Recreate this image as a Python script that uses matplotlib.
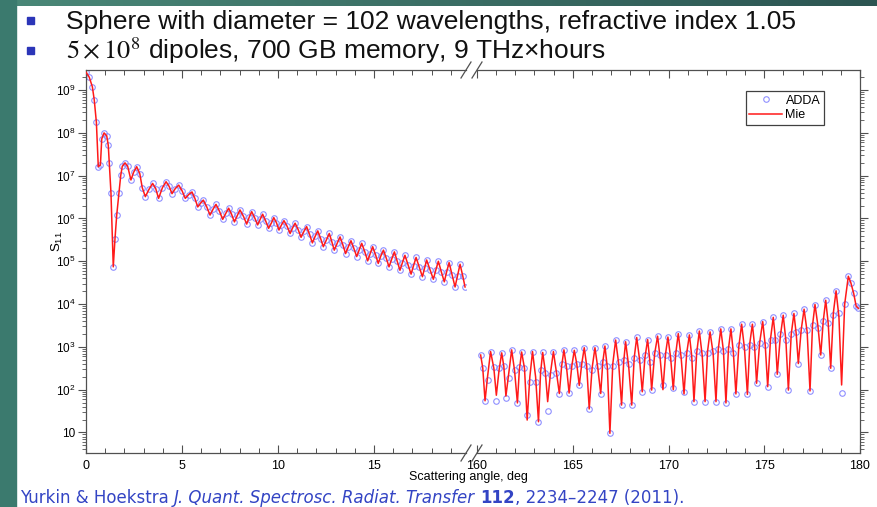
import numpy as np
import matplotlib
matplotlib.use('Agg')
import matplotlib.pyplot as plt
from matplotlib.patches import Rectangle
from matplotlib.lines import Line2D
from matplotlib.ticker import LogLocator, NullFormatter, MultipleLocator

plt.rcParams['font.family'] = ['Liberation Sans', 'DejaVu Sans']
plt.rcParams['mathtext.fontset'] = 'custom'
plt.rcParams['mathtext.rm'] = 'Liberation Sans'
plt.rcParams['mathtext.it'] = 'Liberation Sans:italic'
plt.rcParams['mathtext.default'] = 'regular'

# ---- data (log10 of S11) ----
# 0..20 deg segment: Mie line and ADDA points coincide
left_deg = [0.00, 0.17, 0.33, 0.43, 0.54, 0.64, 0.75, 0.82, 0.94, 1.08, 1.16, 1.21, 1.30, 1.42,
            1.51, 1.60, 1.72, 1.81, 1.89, 2.03, 2.17, 2.34, 2.48, 2.64, 2.80, 2.93, 3.09, 3.28,
            3.47, 3.63, 3.78, 3.98, 4.17, 4.33, 4.48, 4.65, 4.83, 5.00, 5.17, 5.35, 5.52, 5.67,
            5.82, 5.97, 6.11, 6.28, 6.46, 6.62, 6.77, 6.95, 7.12, 7.28, 7.43, 7.58, 7.73, 7.88,
            8.02, 8.20, 8.37, 8.50, 8.63, 8.78, 8.94, 9.07, 9.20, 9.35, 9.51, 9.66, 9.78, 9.92,
            10.05, 10.18, 10.31, 10.47, 10.63, 10.76, 10.89, 11.05, 11.20, 11.35, 11.49, 11.64,
            11.79, 11.93, 12.07, 12.22, 12.36, 12.52, 12.67, 12.80, 12.93, 13.08, 13.23, 13.38,
            13.52, 13.66, 13.80, 13.95, 14.10, 14.23, 14.36, 14.52, 14.67, 14.80, 14.93, 15.08,
            15.22, 15.35, 15.49, 15.64, 15.78, 15.92, 16.06, 16.20, 16.35, 16.48, 16.61, 16.77,
            16.93, 17.06, 17.19, 17.35, 17.52, 17.63, 17.74, 17.92, 18.09, 18.22, 18.35, 18.50,
            18.66, 18.78, 18.91, 19.07, 19.22, 19.35, 19.48, 19.62, 19.74]
left_log = [9.42, 9.30, 9.08, 8.77, 8.25, 7.21, 7.25, 7.86, 8.00, 7.93, 7.71, 7.30, 6.60, 4.87,
            5.53, 6.08, 6.60, 7.01, 7.22, 7.30, 7.22, 6.90, 7.08, 7.21, 7.05, 6.72, 6.51, 6.68,
            6.82, 6.70, 6.47, 6.72, 6.86, 6.75, 6.58, 6.70, 6.78, 6.65, 6.47, 6.56, 6.62, 6.47,
            6.27, 6.36, 6.43, 6.28, 6.08, 6.22, 6.33, 6.17, 5.98, 6.12, 6.24, 6.10, 5.92, 6.07,
            6.20, 6.05, 5.87, 6.03, 6.16, 6.02, 5.85, 5.98, 6.10, 5.95, 5.77, 5.90, 6.02, 5.90,
            5.73, 5.85, 5.95, 5.82, 5.65, 5.78, 5.89, 5.74, 5.56, 5.70, 5.81, 5.63,
            5.43, 5.58, 5.71, 5.53, 5.34, 5.50, 5.65, 5.46, 5.26, 5.42, 5.57, 5.38,
            5.18, 5.34, 5.48, 5.30, 5.11, 5.27, 5.42, 5.22, 5.01, 5.18, 5.34, 5.15,
            4.95, 5.12, 5.26, 5.07, 4.87, 5.05, 5.22, 5.01, 4.79, 4.97, 5.14, 4.92,
            4.70, 4.90, 5.09, 4.87, 4.64, 4.84, 5.03, 4.80, 4.58, 4.80, 5.00, 4.76,
            4.52, 4.75, 4.97, 4.68, 4.40, 4.66, 4.93, 4.66, 4.40]

# 160..180 deg segment
right_deg = [160.19, 160.30, 160.42, 160.55, 160.71, 160.88, 161.01, 161.15, 161.29, 161.40,
             161.51, 161.66, 161.81, 161.96, 162.11, 162.21, 162.33, 162.48, 162.62, 162.76,
             162.90, 163.06, 163.21, 163.32, 163.43, 163.56, 163.69, 163.84, 163.99, 164.15,
             164.30, 164.42, 164.54, 164.68, 164.81, 164.95, 165.08, 165.21, 165.34, 165.47,
             165.60, 165.73, 165.86, 166.01, 166.16, 166.31, 166.46, 166.57, 166.68, 166.81,
             166.94, 167.09, 167.24, 167.40, 167.55, 167.66, 167.76, 167.92, 168.08, 168.21,
             168.34, 168.49, 168.63, 168.77, 168.91, 169.02, 169.12, 169.28, 169.43, 169.56,
             169.71, 169.85, 169.97, 170.11, 170.25, 170.38, 170.51, 170.66, 170.81, 170.95,
             171.09, 171.21, 171.33, 171.47, 171.61, 171.76, 171.91, 172.04, 172.17, 172.33,
             172.48, 172.60, 172.73, 172.87, 173.00, 173.13, 173.26, 173.39, 173.52, 173.67,
             173.82, 173.97, 174.12, 174.25, 174.38, 174.49, 174.60, 174.76, 174.92, 175.05,
             175.18, 175.33, 175.47, 175.58, 175.68, 175.84, 175.99, 176.13, 176.26, 176.41,
             176.55, 176.67, 176.78, 176.93, 177.08, 177.24, 177.39, 177.52, 177.65, 177.80,
             177.95, 178.08, 178.21, 178.34, 178.47, 178.61, 178.75, 178.90, 179.04, 179.20,
             179.39, 179.52, 179.67, 179.80, 179.92]
right_mie_log = [2.81, 2.51, 1.74, 2.30, 2.89, 2.50, 1.87, 2.45, 2.86, 2.55,
                 1.85, 2.40, 2.93, 2.45, 1.69, 2.45, 2.88, 2.50, 1.29, 2.30,
                 2.89, 2.30, 1.25, 2.40, 2.87, 2.45, 1.72, 2.40, 2.89, 2.40,
                 1.91, 2.55, 2.93, 2.50, 1.92, 2.55, 2.92, 2.60, 2.10, 2.60,
                 2.98, 2.55, 1.55, 2.50, 2.98, 2.50, 1.91, 2.65, 3.02, 2.50,
                 0.98, 2.60, 3.16, 2.60, 1.64, 2.65, 3.12, 2.55, 1.64, 2.75,
                 3.22, 2.70, 1.95, 2.75, 3.17, 2.70, 1.99, 2.85, 3.25, 2.75,
                 2.00, 2.85, 3.23, 2.75, 2.00, 2.85, 3.31, 2.75, 1.90, 2.85,
                 3.28, 2.80, 1.72, 2.85, 3.37, 2.80, 1.72, 2.90, 3.35, 2.85,
                 1.72, 2.95, 3.42, 2.90, 1.69, 2.95, 3.42, 2.85, 1.90, 3.00,
                 3.53, 2.95, 1.89, 3.10, 3.53, 3.05, 2.15, 3.10, 3.59, 3.05,
                 2.07, 3.20, 3.69, 3.20, 2.36, 3.25, 3.74, 3.15, 1.99, 3.30,
                 3.78, 3.30, 2.61, 3.40, 3.88, 3.35, 1.97, 3.50, 3.99, 3.50,
                 2.81, 3.60, 4.09, 3.55, 2.50, 3.80, 4.31, 3.70, 2.11, 4.00,
                 4.65, 4.50, 4.25, 3.95, 3.90]
right_adda_log = [2.81, 2.51, 1.74, 2.22, 2.89, 2.54, 1.73, 2.50, 2.86, 2.55,
                  1.81, 2.28, 2.93, 2.45, 1.69, 2.53, 2.87, 2.50, 1.41, 2.18,
                  2.89, 2.18, 1.25, 2.45, 2.87, 2.40, 1.51, 2.35, 2.89, 2.40,
                  1.91, 2.60, 2.93, 2.55, 1.92, 2.55, 2.92, 2.60, 2.10, 2.60,
                  2.98, 2.55, 1.55, 2.45, 2.98, 2.55, 1.91, 2.65, 3.02, 2.55,
                  0.98, 2.55, 3.16, 2.65, 1.64, 2.70, 3.12, 2.60, 1.64, 2.75,
                  3.22, 2.70, 1.95, 2.80, 3.17, 2.65, 1.99, 2.85, 3.25, 2.80,
                  2.10, 2.80, 3.23, 2.75, 2.03, 2.85, 3.31, 2.80, 1.95, 2.85,
                  3.28, 2.75, 1.72, 2.90, 3.37, 2.85, 1.72, 2.85, 3.35, 2.90,
                  1.72, 2.95, 3.42, 2.90, 1.69, 2.95, 3.42, 2.85, 1.90, 3.05,
                  3.53, 3.00, 1.89, 3.05, 3.53, 3.00, 2.15, 3.10, 3.59, 3.05,
                  2.07, 3.15, 3.69, 3.15, 2.36, 3.30, 3.74, 3.15, 1.99, 3.30,
                  3.78, 3.35, 2.61, 3.40, 3.88, 3.40, 1.97, 3.50, 3.99, 3.45,
                  2.81, 3.60, 4.09, 3.55, 2.50, 3.75, 4.31, 3.80, 1.93, 4.00,
                  4.65, 4.50, 4.25, 3.95, 3.90]

ytick_vals = [10, 1e2, 1e3, 1e4, 1e5, 1e6, 1e7, 1e8, 1e9]
ytick_labels = ['10', '$10^2$', '$10^3$', '$10^4$', '$10^5$', '$10^6$', '$10^7$', '$10^8$', '$10^9$']
left_xticks = [0, 5, 10, 15]
right_xticks = [160, 165, 170, 175, 180]

W, H = 877, 507
fig = plt.figure(figsize=(W / 100, H / 100), dpi=100)
fig.patch.set_facecolor('white')

def fx(px):
    return px / W

def fy(py):
    return 1 - py / H

# slide decoration
fig.patches.append(Rectangle((0, 0), fx(16), 1, transform=fig.transFigure,
                             color='#3b7a6e', zorder=0))
band = fig.add_axes([0, fy(6), 1, 6 / H])
band.imshow(np.linspace(0, 1, 256)[None, :], aspect='auto',
            cmap=matplotlib.colors.LinearSegmentedColormap.from_list('b', ['#4a8878', '#2c5552']))
band.axis('off')

bottom, top = 453, 70
ax1 = fig.add_axes([fx(86), fy(bottom), fx(466) - fx(86), (bottom - top) / H])
ax2 = fig.add_axes([fx(477), fy(bottom), fx(860) - fx(477), (bottom - top) / H], sharey=ax1)

mie_c = '#ff1a1a'
adda_c = '#8f8fff'
ax1.plot(left_deg, 10 ** np.array(left_log), 'o', mfc='none', mec=adda_c, ms=4, mew=0.8, zorder=2)
ax1.plot(left_deg, 10 ** np.array(left_log), '-', color=mie_c, lw=1.1, zorder=3)
h_adda, = ax2.plot(right_deg, 10 ** np.array(right_adda_log), 'o', mfc='none', mec=adda_c,
                   ms=4, mew=0.8, zorder=2, label='ADDA')
h_mie, = ax2.plot(right_deg, 10 ** np.array(right_mie_log), '-', color=mie_c, lw=1.1,
                  zorder=3, label='Mie')

ax1.set_yscale('log')
ax1.set_ylim(10 ** 0.52, 10 ** 9.47)
ax1.set_xlim(0, 19.79)
ax2.set_xlim(160, 180)

spine_c = '#505050'
for ax in (ax1, ax2):
    for s in ax.spines.values():
        s.set_color(spine_c)
        s.set_linewidth(0.9)
    ax.xaxis.set_minor_locator(MultipleLocator(1))
    ax.tick_params(axis='x', which='both', direction='in', top=True, bottom=True,
                   color=spine_c, labelsize=9, pad=5)
    ax.tick_params(axis='x', which='major', length=6, width=0.8)
    ax.tick_params(axis='x', which='minor', length=3.5, width=0.7)
    ax.yaxis.set_minor_locator(LogLocator(base=10, subs=np.arange(2, 10)))
    ax.yaxis.set_minor_formatter(NullFormatter())
    ax.tick_params(axis='y', which='both', direction='out', color=spine_c, labelsize=8.5)
    ax.tick_params(axis='y', which='major', length=5.5, width=0.8, pad=2)
    ax.tick_params(axis='y', which='minor', length=3, width=0.6)

ax1.set_xticks(left_xticks)
ax2.set_xticks(right_xticks)
ax1.set_yticks(ytick_vals)
ax1.set_yticklabels(ytick_labels)
ax1.spines['right'].set_visible(False)
ax2.spines['left'].set_visible(False)
ax1.tick_params(axis='y', which='both', left=True, right=False)
ax2.tick_params(axis='y', which='both', left=False, right=True, labelleft=False, labelright=False)

# break marks
for xb in (466, 477):
    for yb in (top, bottom):
        fig.add_artist(Line2D([fx(xb - 5), fx(xb + 5)], [fy(yb + 8), fy(yb - 8)],
                              color=spine_c, lw=0.9))

ax2.legend(handles=[h_adda, h_mie], loc='upper right',
           bbox_to_anchor=(fx(824), fy(91)), bbox_transform=fig.transFigure,
           borderaxespad=0, fancybox=False, edgecolor='#404040', framealpha=1,
           fontsize=9, handlelength=2.6, borderpad=0.3, labelspacing=0.2,
           handletextpad=0.3)
ax2.get_legend().get_frame().set_linewidth(0.9)

fig.text(fx(468), fy(477), 'Scattering angle, deg', ha='center', va='center', fontsize=9)
fig.text(fx(57), fy(242), '$S_{11}$', ha='center', va='center', rotation=90, fontsize=9.5)

# slide text
bullet_c = '#2b35b8'
for yb in (20, 50):
    fig.patches.append(Rectangle((fx(27), fy(yb + 3.5)), fx(7), 7 / H,
                                 transform=fig.transFigure, color=bullet_c))
fig.text(fx(66), fy(29), 'Sphere with diameter = 102 wavelengths, refractive index 1.05',
         fontsize=19, color='#111111', va='baseline')
fig.text(fx(66), fy(59), r'$\mathrm{5\times10^{8}}$ dipoles, 700 GB memory, 9 THz×hours',
         fontsize=19, color='#111111', va='baseline', math_fontfamily='stix')

# citation line, drawn piece by piece
renderer = fig.canvas.get_renderer()
cite_c = '#3344c4'
parts = [('Yurkin & Hoekstra ', 'normal', 'normal'),
         ('J. Quant. Spectrosc. Radiat. Transfer', 'italic', 'normal'),
         (' ', 'normal', 'normal'),
         ('112', 'normal', 'bold'),
         (', 2234–2247 (2011).', 'normal', 'normal')]
xc = 20
for s, st, wt in parts:
    t = fig.text(fx(xc), fy(503), s, fontsize=12, color=cite_c, style=st, weight=wt,
                 family=['DejaVu Sans'], va='baseline')
    xc += t.get_window_extent(renderer=renderer).width

fig.savefig('out.png', dpi=100)
